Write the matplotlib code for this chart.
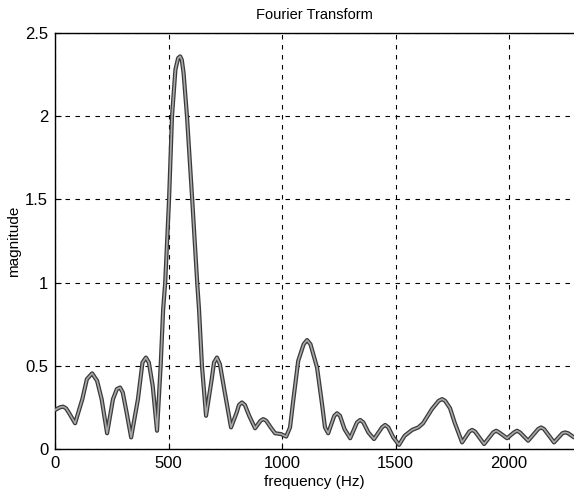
import matplotlib
matplotlib.use("Agg")
import matplotlib.pyplot as plt

# values
freq = [0, 20, 35, 48, 60, 88, 120, 140, 163, 185, 205, 229, 255, 272, 286,
        298, 315, 335, 365, 385, 400, 413, 430, 449, 465, 476, 485, 502, 515,
        530, 542, 551, 558, 566, 581, 604, 626, 634, 647, 665, 690, 700, 713,
        726, 745, 775, 800, 810, 823, 836, 855, 881, 905, 917, 930, 950, 969,
        995, 1018, 1035, 1049, 1071, 1095, 1110, 1125, 1154, 1175, 1189, 1203,
        1230, 1242, 1255, 1275, 1300, 1330, 1344, 1358, 1380, 1405, 1440, 1454,
        1468, 1490, 1515, 1540, 1573, 1600, 1621, 1660, 1690, 1705, 1718, 1740,
        1760, 1793, 1825, 1837, 1850, 1890, 1930, 1943, 1956, 1991, 2022, 2035,
        2048, 2084, 2128, 2141, 2154, 2198, 2235, 2247, 2260, 2286]
mag = [0.235, 0.25, 0.255, 0.245, 0.22, 0.155, 0.30, 0.42, 0.455, 0.41, 0.30,
       0.095, 0.30, 0.36, 0.37, 0.34, 0.22, 0.07, 0.30, 0.52, 0.55, 0.52, 0.38,
       0.11, 0.5, 0.84, 1.0, 1.5, 2.0, 2.28, 2.35, 2.36, 2.34, 2.26, 2.0, 1.5,
       1.0, 0.84, 0.5, 0.2, 0.42, 0.52, 0.55, 0.51, 0.36, 0.13, 0.22, 0.265,
       0.28, 0.265, 0.2, 0.125, 0.17, 0.18, 0.17, 0.13, 0.095, 0.09, 0.075,
       0.13, 0.29, 0.53, 0.63, 0.655, 0.63, 0.49, 0.28, 0.13, 0.095, 0.2, 0.215,
       0.2, 0.12, 0.065, 0.16, 0.175, 0.16, 0.1, 0.06, 0.13, 0.145, 0.13, 0.07,
       0.025, 0.08, 0.115, 0.13, 0.155, 0.24, 0.29, 0.30, 0.29, 0.245, 0.16,
       0.04, 0.105, 0.115, 0.105, 0.03, 0.10, 0.11, 0.10, 0.065, 0.10, 0.11,
       0.10, 0.05, 0.12, 0.13, 0.12, 0.04, 0.095, 0.10, 0.095, 0.07]

xticks = [0, 500, 1000, 1500, 2000]
yticks = [0, 0.5, 1, 1.5, 2, 2.5]
ytick_labels = ['0', '0.5', '1', '1.5', '2', '2.5']

plt.rcParams['font.family'] = ['Liberation Sans', 'DejaVu Sans']

fig = plt.figure(figsize=(5.74, 4.94), dpi=100)
ax = fig.add_axes([0.096, 0.091, 0.904, 0.842])

ax.plot(freq, mag, color='#3a3a3a', lw=3.0, solid_joinstyle='round',
        solid_capstyle='round', zorder=3)
ax.plot(freq, mag, color='#a8a8a8', lw=1.2, solid_joinstyle='round',
        solid_capstyle='round', zorder=4)

ax.set_xlim(0, 2286)
ax.set_ylim(0, 2.5)
ax.set_xticks(xticks)
ax.set_yticks(yticks)
ax.set_yticklabels(ytick_labels)
ax.tick_params(direction='in', length=4, labelsize=12, colors='black', pad=5)
ax.spines['right'].set_visible(False)
for s in ['left', 'bottom', 'top']:
  ax.spines[s].set_linewidth(1.0)
ax.grid(True, color='black', linestyle=(0, (4, 5)), linewidth=0.8)

ax.set_title('Fourier Transform', fontsize=10.5, pad=10)
ax.set_xlabel('frequency (Hz)', fontsize=11, labelpad=3)
ax.set_ylabel('magnitude', fontsize=11, labelpad=3)

fig.savefig('out.png', dpi=100)
